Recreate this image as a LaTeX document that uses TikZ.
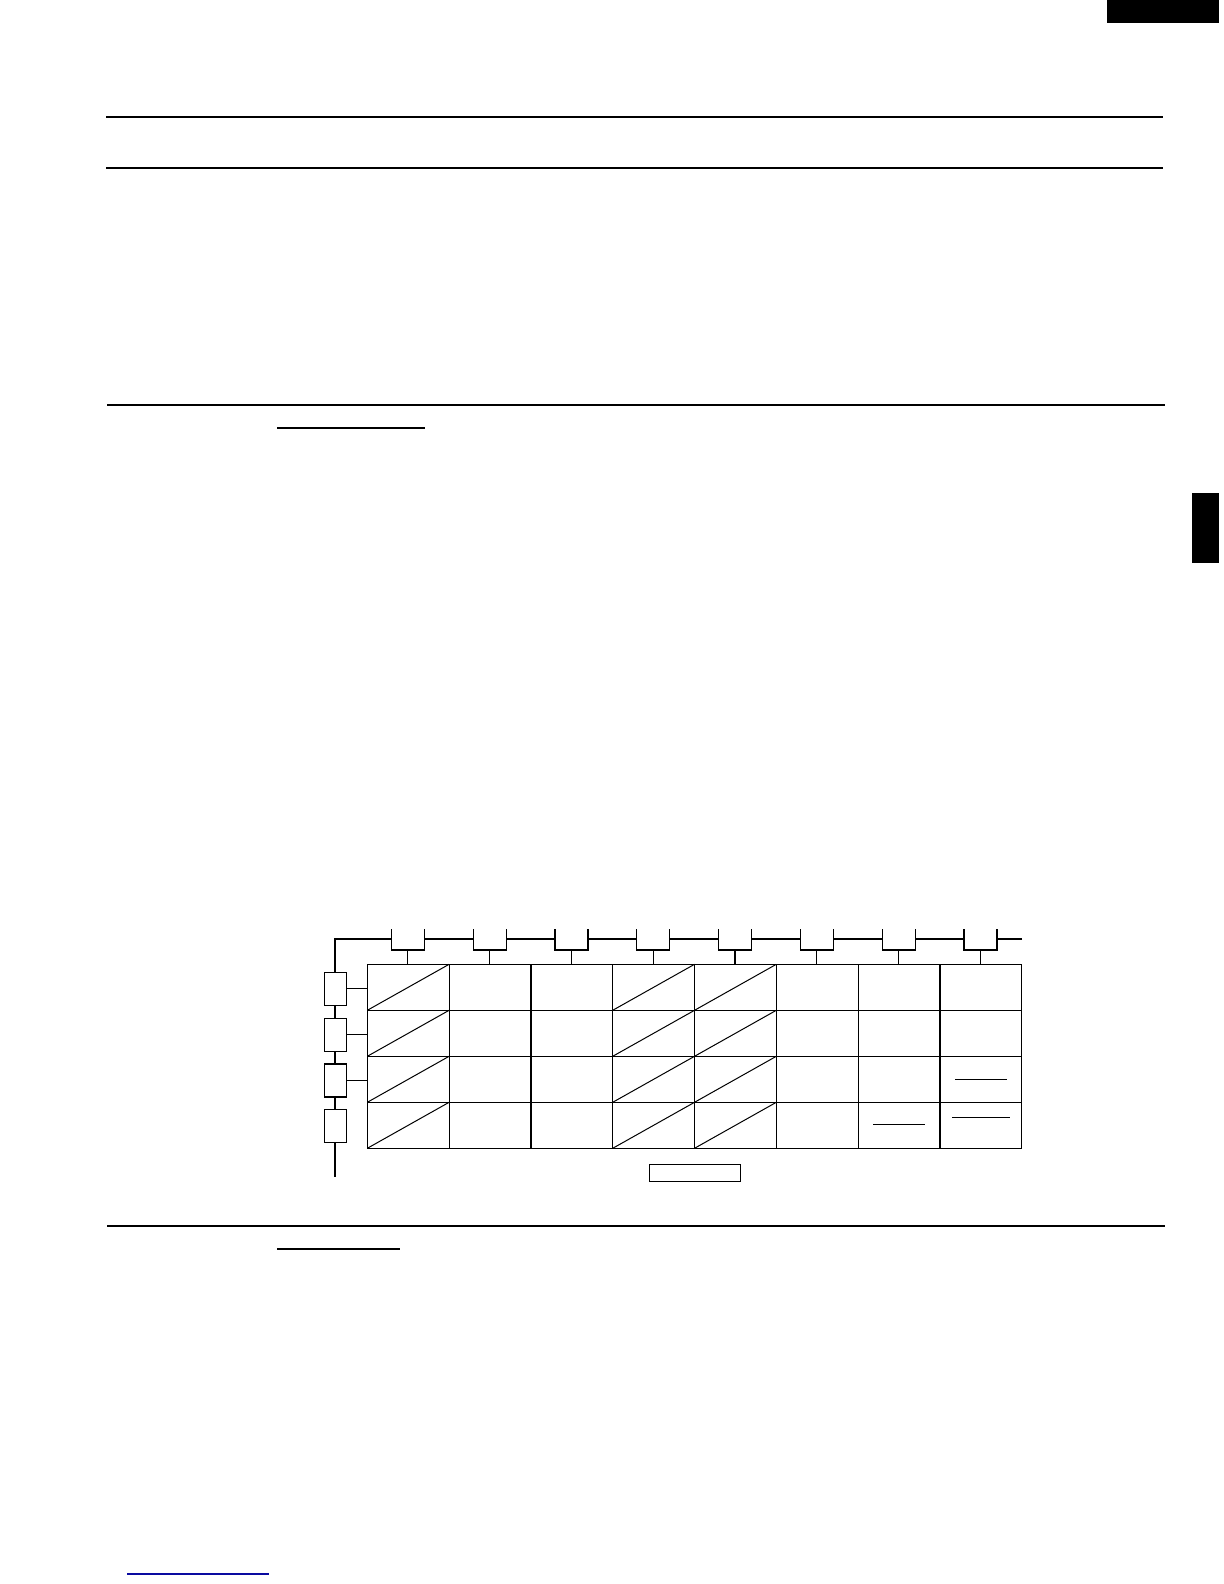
\documentclass[tikz,border=0pt]{standalone}
\definecolor{linkblue}{RGB}{10,10,160}

\begin{document}
\begin{tikzpicture}[x=0.5pt, y=-0.5pt]
	\tikzstyle{rule} = [line width=0.85pt]
	\tikzstyle{bus} = [line width=1pt]
	\tikzstyle{wire} = [line width=0.6pt]
	\tikzstyle{cell} = [draw, line width=0.6pt, rectangle, inner sep=0pt, outer sep=0pt, minimum width=40.9pt, minimum height=23pt]
	\tikzstyle{colbox} = [fill=white, rectangle, inner sep=0pt, outer sep=0pt, minimum width=16.5pt, minimum height=10.5pt]
	\tikzstyle{rowbox} = [draw, fill=white, line width=0.6pt, rectangle, inner sep=0pt, outer sep=0pt, minimum width=11pt, minimum height=16.5pt]
	\useasboundingbox (0,0) rectangle (1224,1584);
	\fill (1107,0) rectangle (1219,22.7);
	\fill (1192,493) rectangle (1219,563);
	\draw [rule] (106,116.7)--(1162.7,116.7);
	\draw [rule] (106,167.7)--(1162.7,167.7);
	\draw [rule] (107,405)--(1165,405);
	\draw [wire] (277,428)--(425,428);
	\draw [rule] (107,1225.7)--(1165,1225.7);
	\draw [wire] (277,1249)--(400,1249);
	\draw [linkblue, line width=0.6pt] (127,1574)--(269,1574);
	\coordinate (BusEnd) at (1022,939);
	\coordinate (BusCorner) at (335.3,939);
	\coordinate (BusFoot) at (335.3,1177);
	\draw [bus] (BusEnd)--(BusCorner)--(BusFoot);
	\foreach \c in {1,...,8} {
		\foreach \r in {1,...,4} {
			\node [cell] (c\c\r) at (408.2+81.8*\c-81.8, 987.3+46*\r-46) {};
		}
		\node [colbox] (t\c) at (407.8+81.8*\c-81.8, 939.5) {};
		\draw [wire] (t\c.north west)--(t\c.south west)--(t\c.south east)--(t\c.north east);
		\draw [wire] (t\c.south)--(t\c.south |- c\c1.north);
	}
	\foreach \r in {1,...,4} {
		\node [rowbox] (l\r) at (335.3, 988.8+45.8*\r-45.8) {};
		\foreach \c in {1,4,5} {
			\draw [line width=0.5pt] (c\c\r.south west)--(c\c\r.north east);
		}
	}
	\foreach \r in {1,2,3} {
		\draw [wire] (l\r.east)--(l\r.east -| c1\r.west);
	}
	\coordinate (m83) at (981,1079.3);
	\coordinate (m84) at (981,1117.3);
	\coordinate (m74) at (899,1124.3);
	\draw [line width=0.5pt] ([xshift=-12.9pt]m83)--([xshift=12.9pt]m83);
	\draw [line width=0.5pt] ([xshift=-14.4pt]m84)--([xshift=14.4pt]m84);
	\draw [line width=0.5pt] ([xshift=-12.9pt]m74)--([xshift=12.9pt]m74);
	\node [draw, line width=0.6pt, rectangle, inner sep=0pt, minimum width=45.5pt, minimum height=8.5pt] (Key) at (694.8,1172.8) {};
\end{tikzpicture}
\end{document}
